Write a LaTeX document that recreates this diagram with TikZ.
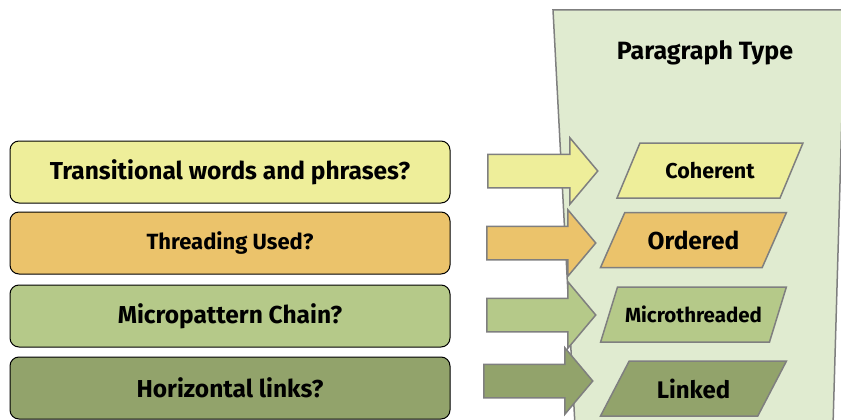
\documentclass[tikz,border=0pt]{standalone}
\usepackage{fontspec}
\setmainfont{Fira Sans}
\usetikzlibrary{shapes.geometric,shapes.arrows}
\definecolor{panelgreen}{HTML}{E0EBD0}
\definecolor{edgegray}{HTML}{7F7F7F}
\definecolor{cyellow}{HTML}{EEEE9A}
\definecolor{corange}{HTML}{EBC36B}
\definecolor{cgreen}{HTML}{B5C989}
\definecolor{colive}{HTML}{92A36B}
\tikzset{
        question/.style={
            draw=black, line width=1pt, rounded corners=9pt,
            minimum width=440pt, minimum height=62pt, font=\bfseries
        },
        flow/.style={
            single arrow, draw=edgegray, line width=1.5pt, anchor=tail,
            minimum height=#1, inner xsep=0pt, inner ysep=16pt,
            single arrow head extend=16.5pt, single arrow tip angle=100,
            single arrow head indent=0pt
        },
        ptype/.style={
            trapezium, trapezium left angle=56, trapezium right angle=124,
            trapezium stretches, draw=edgegray, line width=1.5pt,
            minimum width=186pt, minimum height=55pt, font=\bfseries
        },
    }

\begin{document}
\begin{tikzpicture}[x=1pt,y=-1pt]
 \useasboundingbox (0,0) rectangle (841,420);
 \draw[fill=panelgreen,draw=edgegray,line width=1.5pt] (575,426) -- (553,10) -- (845,10) -- (833,426);
 \node[font=\bfseries\fontsize{25}{30}\selectfont] (title) at (705,53) {Paragraph Type};

 \node[question,fill=cyellow,font=\bfseries\fontsize{24.5}{29}\selectfont] (q@a) at (230,172) {Transitional words and phrases?};
 \node[question,fill=corange,font=\bfseries\fontsize{22}{26}\selectfont] (q@b) at (230,243) {Threading Used?};
 \node[question,fill=cgreen,font=\bfseries\fontsize{24.5}{29}\selectfont] (q@c) at (230,316) {Micropattern Chain?};
 \node[question,fill=colive,font=\bfseries\fontsize{24.5}{29}\selectfont] (q@d) at (230,388) {Horizontal links?};

 \node[flow=110pt,fill=cyellow] (f@a) at (487,171) {};
 \node[flow=109pt,fill=corange] (f@b) at (486,243) {};
 \node[flow=109pt,fill=cgreen] (f@c) at (486,315) {};
 \node[flow=109pt,fill=colive] (f@d) at (483,381) {};

 \node[ptype,fill=cyellow,font=\bfseries\fontsize{21.5}{26}\selectfont] (p@a) at (710,170.5) {Coherent};
 \node[ptype,fill=corange,font=\bfseries\fontsize{24.5}{29}\selectfont] (p@b) at (693.5,240) {Ordered};
 \node[ptype,fill=cgreen,font=\bfseries\fontsize{20.5}{24}\selectfont] (p@c) at (693.5,314.5) {Microthreaded};
 \node[ptype,fill=colive,font=\bfseries\fontsize{24}{29}\selectfont] (p@d) at (693.5,388.5) {Linked};
\end{tikzpicture}
\end{document}
